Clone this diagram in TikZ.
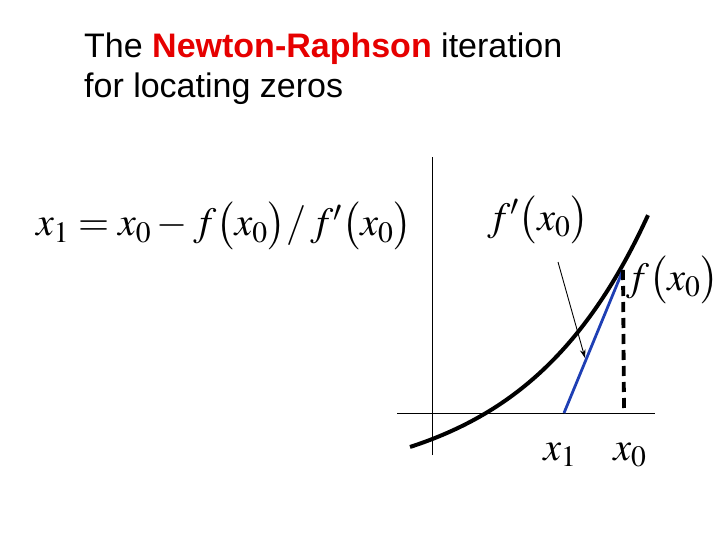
\documentclass[tikz,border=0pt]{standalone}
\usepackage{mathptmx}
\usepackage{fontspec}
\setmainfont{Liberation Sans}
\usepackage{tikz}
\usetikzlibrary{arrows.meta,positioning,calc}
\definecolor{nrRed}{HTML}{E60000}
\definecolor{nrBlue}{HTML}{1E3FB4}
\tikzset{
  nraxis/.style={line width=0.8pt, draw=black},
  nrcurve/.style={line width=4pt, draw=black},
  nrtangent/.style={line width=2.8pt, draw=nrBlue},
  nrdrop/.style={line width=3.8pt, draw=black, dash pattern=on 10pt off 6pt},
  nrmath/.style={font=\fontsize{40}{44}\selectfont, inner sep=0pt},
  nrarr/.style={-{Stealth[length=3mm, width=2mm]}, line width=0.9pt},
}

\begin{document}
\begin{tikzpicture}[x=1pt, y=-1pt]
    \useasboundingbox (0,0) rectangle (720,540);
    % title
    \node[anchor=north west, align=left, inner sep=0pt, font=\fontsize{34}{40}\selectfont] (title) at (84,33)
      {The \textcolor{nrRed}{\textbf{Newton-Raphson}} iteration\\for locating zeros};
    % update formula
    \node[nrmath] (rule) at (224,226) {$x_1 = x_0 - f\bigl(x_0\bigr)/\,f'\bigl(x_0\bigr)$};
    % axes
    \coordinate (yb) at (432,455);
    \coordinate (yt) at (432,157);
    \coordinate (xl) at (397,413);
    \coordinate (xr) at (655,413);
    \draw[nraxis] (yb) -- (yt);
    \draw[nraxis] (xl) -- (xr);
    % curve and tangent
    \draw[nrcurve] plot[domain=410:648, samples=80] (\x, {487.6 - 74.6*exp(0.008*(\x-486))});
    \coordinate (fx0) at (623,270);
    \coordinate (x1pt) at (564,413);
    \coordinate (x0pt) at (624,410);
    \draw[nrtangent] (x1pt) -- (fx0);
    \draw[nrdrop] (fx0) -- (x0pt);
    % labels
    \node[nrmath] (slope) at (538,220) {$f'\bigl(x_0\bigr)$};
    \node[nrmath, anchor=west] (fval) at (626,280) {$f\bigl(x_0\bigr)$};
    \node[nrmath] (lx1) at (560,455) {$x_1$};
    \node[nrmath] (lx0) at (630,455) {$x_0$};
    \coordinate (tip) at (585,358);
    \draw[nrarr] (558,262) -- (tip);
\end{tikzpicture}
\end{document}
